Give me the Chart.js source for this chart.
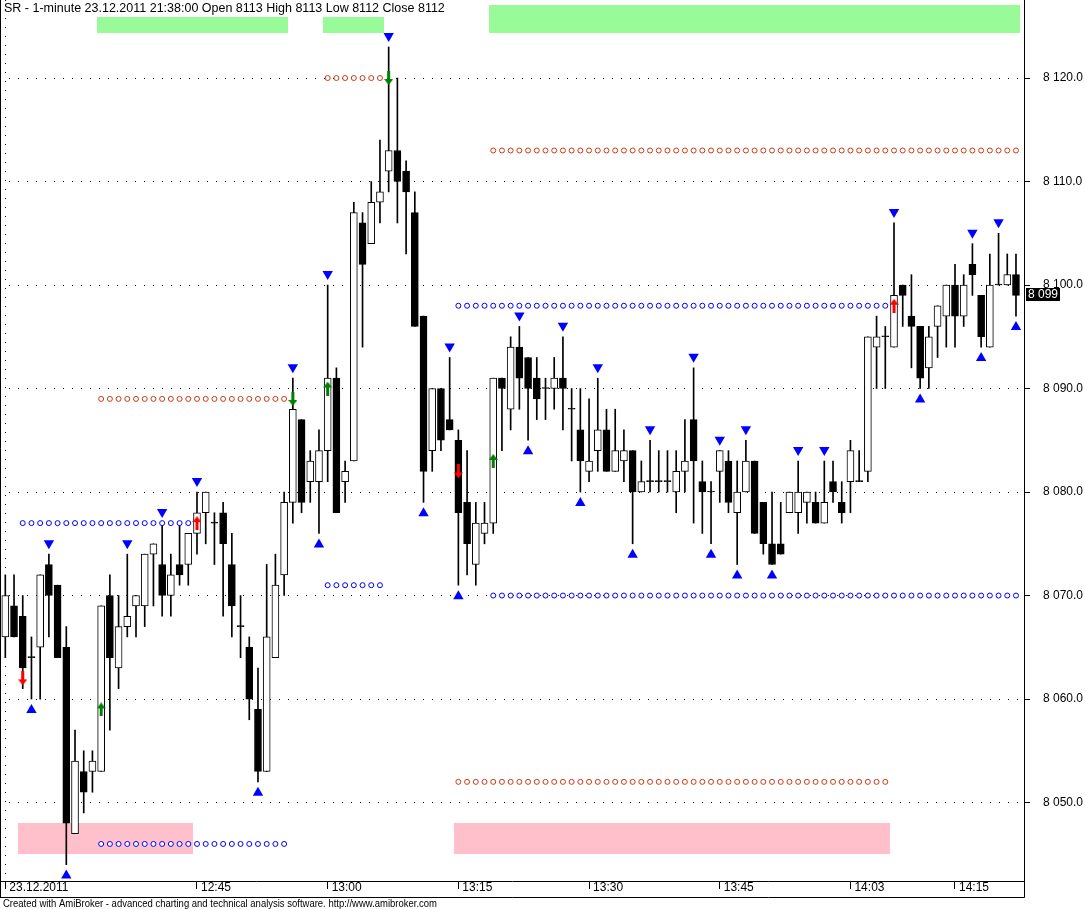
<!DOCTYPE html>
<html>
<head>
<meta charset="utf-8">
<title>SR - 1-minute</title>
<script src="https://cdn.jsdelivr.net/npm/chart.js@4.4.0/dist/chart.umd.min.js"></script>
<style>
  html, body { margin: 0; padding: 0; background: #fff; }
  canvas { display: block; }
</style>
</head>
<body>
<canvas id="chart" width="1085" height="909"></canvas>
<script>
// 1-minute bars, 12:23 .. 14:17 (bar index 0..116)
const opens = [
  8066, 8069, 8068, 8064, 8065, 8073, 8071, 8065, 8047, 8053,
  8053, 8053, 8070, 8063, 8067, 8069, 8069, 8074, 8073, 8070,
  8073, 8073, 8076, 8078, 8077, 8078, 8073, 8067, 8065, 8059,
  8053, 8064, 8072, 8079, 8087, 8081, 8081, 8084, 8091, 8081,
  8083, 8106, 8104, 8108, 8111, 8113, 8111, 8107, 8097, 8084,
  8090, 8087, 8085, 8079, 8073, 8076, 8077, 8091, 8088, 8094,
  8093, 8091, 8090, 8090, 8091, 8088, 8086, 8082, 8084, 8086,
  8082, 8083, 8084, 8080, 8081, 8081, 8081, 8080, 8082, 8087,
  8081, 8080, 8082, 8083, 8078, 8080, 8083, 8079, 8075, 8075,
  8078, 8078, 8079, 8079, 8077, 8081, 8079, 8081, 8081, 8082,
  8094, 8095, 8094, 8100, 8097, 8096, 8092, 8096, 8097, 8100,
  8097, 8102, 8099, 8094, 8100, 8100, 8101
];
const highs = [
  8072, 8072, 8070, 8066, 8072, 8074, 8071, 8067, 8057, 8055,
  8055, 8069, 8072, 8070, 8074, 8070, 8074, 8075, 8077, 8074,
  8077, 8076, 8080, 8080, 8078, 8079, 8076, 8070, 8066, 8063,
  8073, 8074, 8080, 8091, 8087, 8084, 8086, 8100, 8092, 8083,
  8108, 8107, 8110, 8114, 8123, 8120, 8112, 8109, 8097, 8090,
  8090, 8093, 8086, 8084, 8079, 8079, 8091, 8091, 8095, 8096,
  8093, 8093, 8091, 8093, 8095, 8090, 8090, 8089, 8091, 8088,
  8088, 8086, 8084, 8083, 8085, 8084, 8084, 8084, 8087, 8092,
  8083, 8081, 8084, 8084, 8083, 8085, 8083, 8079, 8080, 8079,
  8080, 8083, 8080, 8080, 8083, 8083, 8081, 8085, 8084, 8095,
  8097, 8096, 8106, 8100, 8101, 8096, 8096, 8098, 8100, 8102,
  8101, 8104, 8099, 8103, 8105, 8103, 8103
];
const lows = [
  8064, 8066, 8061, 8060, 8060, 8066, 8064, 8044, 8047, 8049,
  8051, 8053, 8057, 8061, 8066, 8066, 8067, 8069, 8068, 8068,
  8071, 8071, 8074, 8075, 8073, 8068, 8066, 8064, 8058, 8052,
  8053, 8064, 8070, 8077, 8078, 8079, 8076, 8081, 8078, 8079,
  8083, 8094, 8104, 8106, 8109, 8106, 8103, 8096, 8079, 8082,
  8084, 8086, 8071, 8072, 8071, 8075, 8076, 8084, 8086, 8088,
  8085, 8087, 8087, 8088, 8086, 8083, 8080, 8081, 8082, 8082,
  8082, 8081, 8075, 8080, 8080, 8080, 8080, 8078, 8080, 8077,
  8076, 8075, 8079, 8078, 8073, 8080, 8076, 8074, 8073, 8074,
  8078, 8076, 8077, 8077, 8077, 8079, 8077, 8078, 8081, 8081,
  8090, 8090, 8094, 8096, 8092, 8090, 8090, 8093, 8094, 8094,
  8096, 8099, 8094, 8094, 8100, 8100, 8097
];
const closes = [
  8070, 8066, 8063, 8064, 8072, 8070, 8064, 8048, 8054, 8051,
  8054, 8069, 8064, 8067, 8068, 8070, 8074, 8075, 8070, 8072,
  8072, 8076, 8078, 8080, 8077, 8075, 8069, 8067, 8060, 8053,
  8066, 8071, 8079, 8088, 8079, 8083, 8084, 8091, 8078, 8082,
  8107, 8102, 8108, 8109, 8113, 8110, 8109, 8096, 8082, 8090,
  8085, 8086, 8078, 8075, 8077, 8077, 8091, 8090, 8094, 8091,
  8090, 8089, 8090, 8091, 8090, 8088, 8083, 8083, 8086, 8082,
  8084, 8084, 8080, 8081, 8081, 8081, 8081, 8082, 8083, 8083,
  8080, 8080, 8084, 8079, 8080, 8083, 8076, 8075, 8073, 8074,
  8080, 8080, 8080, 8077, 8079, 8080, 8078, 8084, 8081, 8095,
  8095, 8095, 8099, 8099, 8096, 8091, 8095, 8098, 8100, 8097,
  8100, 8101, 8095, 8100, 8100, 8101, 8099
];

// time axis
const timeTickIdx = [0, 22, 37, 52, 67, 82, 97, 109];
const timeTickLabels = ['23.12.2011', '12:45', '13:00', '13:15', '13:30', '13:45', '14:03', '14:15'];
const priceTicks = [8050, 8060, 8070, 8080, 8090, 8100, 8110, 8120];

// signals
const sellIdx = [5, 14, 18, 22, 33, 37, 44, 51, 59, 64, 68, 74, 79, 82, 85, 91, 94, 102, 111, 114];
const buyIdx = [3, 7, 29, 36, 48, 52, 60, 66, 72, 81, 84, 88, 105, 112, 116];

const greenUpIdx = [11, 37, 56];
const greenUpPrice = [8059, 8090, 8083];
const greenDownIdx = [33, 44];
const greenDownPrice = [8089, 8120];
const redUpIdx = [22, 102];
const redUpPrice = [8077, 8098];
const redDownIdx = [2, 52];
const redDownPrice = [8062, 8082];

// levels drawn as dotted rows of circles
const blueLevelPrice = [8077, 8046, 8071, 8098, 8070];
const blueLevelFrom = [2, 11, 37, 52, 56];
const blueLevelTo = [21, 32, 43, 101, 116];
const redLevelPrice = [8089, 8120, 8052, 8113];
const redLevelFrom = [11, 37, 52, 56];
const redLevelTo = [32, 43, 101, 116];

// shaded zones
const greenZoneFrom = [11, 37, 56];
const greenZoneTo = [32, 43, 116];
const greenZoneTop = [8125.9, 8125.9, 8127.05];
const greenZoneBottom = [8124.35, 8124.35, 8124.35];
const pinkZoneFrom = [2, 52];
const pinkZoneTo = [21, 101];
const pinkZoneTop = [8048, 8048];
const pinkZoneBottom = [8045, 8045];

const titleText = 'SR - 1-minute 23.12.2011 21:38:00 Open 8113 High 8113 Low 8112 Close 8112';
const footerText = 'Created with AmiBroker - advanced charting and technical analysis software. http://www.amibroker.com';

const MARKER_GAP = 1.06;
const BLUE = '#0000ff';
const RED_DOT = '#c83c14';

Chart.defaults.font.family = "'Liberation Sans', Arial, sans-serif";
Chart.defaults.font.size = 12;
Chart.defaults.color = '#000';

const idx = opens.map((_, i) => i);
const wickData = idx.map(i => ({ x: i, y: [lows[i], highs[i]] }));
const bodyData = idx.map(i => ({ x: i, y: [opens[i], closes[i]] }));
const bodyFill = idx.map(i => closes[i] > opens[i] ? '#ffffff' : '#000000');

function levelPoints(prices, from, to) {
  const pts = [];
  prices.forEach((p, k) => {
    for (let i = from[k]; i <= to[k]; i++) pts.push({ x: i, y: p });
  });
  return pts;
}

function makeArrow(color, up) {
  const c = document.createElement('canvas');
  c.width = 9; c.height = 14;
  const g = c.getContext('2d');
  g.fillStyle = color;
  g.beginPath();
  if (up) {
    g.moveTo(4.5, 0); g.lineTo(9, 6); g.lineTo(6, 6); g.lineTo(6, 14);
    g.lineTo(3, 14); g.lineTo(3, 6); g.lineTo(0, 6);
  } else {
    g.moveTo(4.5, 14); g.lineTo(9, 8); g.lineTo(6, 8); g.lineTo(6, 0);
    g.lineTo(3, 0); g.lineTo(3, 8); g.lineTo(0, 8);
  }
  g.closePath();
  g.fill();
  return c;
}

function markerSet(ids, prices, style) {
  return {
    type: 'line', showLine: false, order: 1,
    data: ids.map((i, k) => ({ x: i, y: prices[k] })),
    pointStyle: style, pointRadius: 7, pointHoverRadius: 7
  };
}

function fmtPrice(v) {
  const s = String(Math.round(v));
  return s.slice(0, 1) + ' ' + s.slice(1);
}

// no label-overflow padding: the plot runs right up to the canvas top
function noPad(s) {
  s.paddingTop = 0; s.paddingBottom = 0; s.paddingLeft = 0; s.paddingRight = 0;
}

const overlay = {
  id: 'overlay',
  beforeDraw(chart) {
    const ctx = chart.ctx;
    ctx.save();
    ctx.fillStyle = '#fff';
    ctx.fillRect(0, 0, chart.width, chart.height);
    ctx.restore();
  },
  beforeDatasetsDraw(chart) {
    const { ctx, scales: { x, y } } = chart;
    const zone = (from, to, top, bottom, color) => {
      ctx.fillStyle = color;
      from.forEach((f, k) => {
        const x1 = Math.round(x.getPixelForValue(f - 0.5));
        const x2 = Math.round(x.getPixelForValue(to[k] + 0.5));
        const y1 = Math.round(y.getPixelForValue(top[k]));
        const y2 = Math.round(y.getPixelForValue(bottom[k]));
        ctx.fillRect(x1, y1, x2 - x1, y2 - y1);
      });
    };
    ctx.save();
    zone(greenZoneFrom, greenZoneTo, greenZoneTop, greenZoneBottom, '#98fb98');
    zone(pinkZoneFrom, pinkZoneTo, pinkZoneTop, pinkZoneBottom, '#ffc0cb');
    ctx.restore();
  },
  afterDraw(chart) {
    const { ctx, chartArea: a, scales: { y } } = chart;
    ctx.save();
    // frame
    ctx.strokeStyle = '#000';
    ctx.lineWidth = 1;
    ctx.beginPath();
    ctx.moveTo(0.5, 0); ctx.lineTo(0.5, 897.5);
    ctx.moveTo(0, 897.5); ctx.lineTo(a.right + 0.5, 897.5);
    ctx.moveTo(a.right + 0.5, a.bottom); ctx.lineTo(a.right + 0.5, 897.5);
    ctx.stroke();
    // title
    ctx.fillStyle = '#000';
    ctx.font = "12.5px 'Liberation Sans', Arial, sans-serif";
    ctx.textBaseline = 'alphabetic';
    ctx.textAlign = 'left';
    ctx.fillText(titleText, 4, 12);
    // footer
    ctx.font = "10px 'Liberation Sans', Arial, sans-serif";
    ctx.fillText(footerText, 3, 907, 434);
    // last price tag
    const last = closes[closes.length - 1];
    const py = Math.round(y.getPixelForValue(last));
    ctx.fillStyle = '#000';
    ctx.fillRect(a.right + 2, py - 7, 34, 13);
    ctx.fillStyle = '#fff';
    ctx.font = "12px 'Liberation Sans', Arial, sans-serif";
    ctx.textBaseline = 'middle';
    ctx.fillText(fmtPrice(last), a.right + 4, py);
    ctx.restore();
  }
};

new Chart(document.getElementById('chart'), {
  type: 'bar',
  data: {
    datasets: [
      {
        label: 'wick', data: wickData, backgroundColor: '#000', borderWidth: 0,
        barThickness: 1, grouped: false, order: 6
      },
      {
        label: 'body', data: bodyData, backgroundColor: bodyFill, borderColor: '#000',
        borderWidth: 1, borderSkipped: false, barThickness: 7, minBarLength: 1,
        grouped: false, order: 5
      },
      {
        type: 'line', label: 'blue levels', showLine: false, order: 4,
        data: levelPoints(blueLevelPrice, blueLevelFrom, blueLevelTo),
        pointStyle: 'circle', pointRadius: 2.5, pointBorderWidth: 1,
        pointBorderColor: BLUE, pointBackgroundColor: '#fff'
      },
      {
        type: 'line', label: 'red levels', showLine: false, order: 4,
        data: levelPoints(redLevelPrice, redLevelFrom, redLevelTo),
        pointStyle: 'circle', pointRadius: 2.5, pointBorderWidth: 1,
        pointBorderColor: RED_DOT, pointBackgroundColor: '#fff'
      },
      {
        type: 'line', label: 'sell', showLine: false, order: 3,
        data: sellIdx.map(i => ({ x: i, y: highs[i] + MARKER_GAP })),
        pointStyle: 'triangle', pointRotation: 180, pointRadius: 6, pointBorderWidth: 0,
        pointBackgroundColor: BLUE, pointBorderColor: BLUE
      },
      {
        type: 'line', label: 'buy', showLine: false, order: 3,
        data: buyIdx.map(i => ({ x: i, y: lows[i] - MARKER_GAP })),
        pointStyle: 'triangle', pointRadius: 6, pointBorderWidth: 0,
        pointBackgroundColor: BLUE, pointBorderColor: BLUE
      },
      markerSet(greenUpIdx, greenUpPrice, makeArrow('#008000', true)),
      markerSet(greenDownIdx, greenDownPrice, makeArrow('#008000', false)),
      markerSet(redUpIdx, redUpPrice, makeArrow('#ff0000', true)),
      markerSet(redDownIdx, redDownPrice, makeArrow('#ff0000', false))
    ]
  },
  options: {
    responsive: false,
    animation: false,
    devicePixelRatio: 1,
    layout: { padding: 0, autoPadding: false },
    plugins: { legend: { display: false }, tooltip: { enabled: false }, title: { display: false } },
    scales: {
      x: {
        type: 'linear', min: -0.61, max: 116.92, offset: false,
        grid: {
          offset: false, lineWidth: 1, tickLength: 8, tickColor: '#000',
          color: c => c.index === 0 ? '#000' : 'rgba(0,0,0,0)'
        },
        border: { display: true, color: '#000', width: 1, dash: [1, 8] },
        afterBuildTicks: s => { s.ticks = timeTickIdx.map(v => ({ value: v })); },
        afterFit: s => { s.height = 28; noPad(s); },
        ticks: {
          autoSkip: false, maxRotation: 0, minRotation: 0, align: 'start',
          labelOffset: 4, padding: -9, color: '#000',
          callback: v => timeTickLabels[timeTickIdx.indexOf(v)]
        }
      },
      y: {
        position: 'right', min: 8042.42, max: 8127.54,
        grid: { color: '#000', lineWidth: 1, tickLength: 6, tickColor: '#000' },
        border: { display: true, color: '#000', width: 1, dash: [1, 8] },
        afterBuildTicks: s => { s.ticks = priceTicks.map(v => ({ value: v })); },
        afterFit: s => { s.width = 61; noPad(s); },
        ticks: { padding: 13, color: '#000', callback: v => fmtPrice(v) + '.0' }
      }
    }
  },
  plugins: [overlay]
});
</script>
</body>
</html>
